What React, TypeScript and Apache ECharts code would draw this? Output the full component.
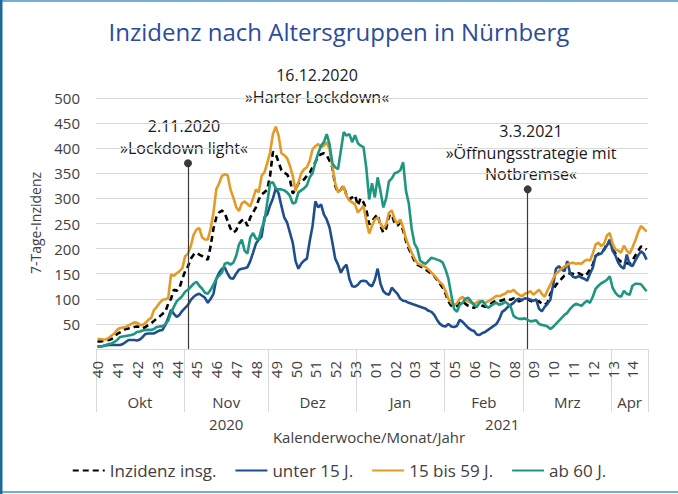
import React, { useEffect, useRef } from 'react';
import * as echarts from 'echarts';

// ---------- data ----------
const START = Date.UTC(2020, 9, 1);
const DAY_COUNT = 195;
const days: string[] = [];
for (let i = 0; i < DAY_COUNT; i++) {
  days.push(new Date(START + i * 86400000).toISOString().slice(0, 10));
}

const weekLabels = ['40','41','42','43','44','45','46','47','48','49','50','51','52','53','01','02','03','04','05','06','07','08','09','10','11','12','13','14'];
const monthNames = ['Okt', 'Nov', 'Dez', 'Jan', 'Feb', 'Mrz', 'Apr'];
const monthStarts = [0, 31, 61, 92, 123, 151, 182, 195];
const yearNames = ['2020', '2021'];
const yearStarts = [0, 92, 195];

const insg = [
  15,15,16,17,18,20,24,30,33,36,
  40,41,42,44,45,44,41,44,48,51,
  56,61,65,70,74,90,100,118,116,122,
  140,155,165,180,188,192,188,185,180,178,
  205,240,262,272,276,270,255,240,232,236,
  250,256,258,245,262,272,282,298,308,312,
  318,345,393,388,372,356,351,348,338,310,
  318,330,334,338,345,351,362,372,384,388,
  390,386,375,362,325,312,318,325,306,298,
  302,306,286,300,292,278,248,255,262,268,
  245,232,240,265,268,250,246,252,236,215,
  200,188,176,168,165,162,158,154,150,145,
  138,130,122,110,95,86,84,86,92,95,
  90,86,84,82,85,88,86,84,86,90,
  94,96,95,97,99,100,98,101,96,95,
  98,97,99,96,94,93,95,90,88,92,
  110,118,128,134,140,146,148,151,150,148,
  151,148,145,150,158,168,185,190,192,198,
  210,214,198,190,178,174,172,171,170,176,
  186,195,204,202,198
];

const unter15 = [
  5,5,6,7,8,8,8,8,8,10,
  14,18,18,18,17,19,24,30,31,31,
  31,34,37,38,48,62,78,70,64,68,
  76,82,88,98,104,108,110,106,102,92,
  100,110,140,152,160,162,150,141,140,150,
  158,160,161,163,175,192,210,218,224,262,
  268,286,300,320,310,285,262,252,232,212,
  175,160,170,176,180,215,245,294,282,288,
  268,258,242,212,180,168,152,162,168,140,
  125,124,128,135,136,135,128,125,138,160,
  130,115,110,108,122,116,110,100,96,95,
  92,90,88,86,84,82,80,76,74,68,
  58,50,46,45,50,45,44,46,58,54,
  48,42,38,36,29,28,32,34,38,42,
  46,50,60,74,78,84,88,92,98,100,
  97,101,100,98,96,99,80,75,84,90,
  98,128,160,165,158,155,175,150,144,142,
  145,142,140,136,150,162,186,188,190,198,
  206,218,196,186,172,164,160,188,168,165,
  176,186,195,190,178
];

const bis59 = [
  20,20,19,19,22,27,31,38,42,43,
  44,47,50,53,52,48,48,52,58,62,
  78,84,92,98,99,101,148,146,151,155,
  161,185,190,205,228,238,241,222,218,218,
  240,272,318,330,345,348,346,318,302,283,
  275,290,294,289,284,300,318,312,345,352,
  370,392,428,443,425,390,386,380,365,345,
  315,332,350,358,362,375,398,404,408,402,
  405,412,398,365,330,312,318,324,305,296,
  292,288,272,278,285,255,230,245,258,262,
  250,240,248,272,276,258,250,258,242,220,
  205,192,180,171,168,166,163,158,152,146,
  140,133,128,115,100,92,88,91,100,104,
  97,95,92,90,93,96,94,92,95,98,
  102,106,105,108,110,115,114,118,112,108,
  105,110,112,115,108,113,118,110,104,117,
  128,140,150,155,160,164,168,171,172,170,
  171,170,175,178,176,190,208,212,205,210,
  226,231,210,198,196,192,206,196,190,202,
  216,232,245,240,234
];

const ab60 = [
  5,5,6,8,10,11,14,18,24,25,
  26,27,28,30,34,35,37,38,38,38,
  40,44,45,45,50,56,72,84,95,100,
  106,114,118,124,130,134,126,120,112,110,
  118,128,140,146,152,170,172,168,172,185,
  208,218,196,190,222,231,220,218,240,255,
  292,330,332,320,318,318,316,312,305,290,
  292,312,316,320,326,342,350,372,390,405,
  412,428,408,370,362,358,395,432,425,428,
  412,426,410,405,402,360,298,330,302,342,
  314,282,300,334,340,350,352,356,372,315,
  290,240,210,200,176,172,170,176,182,180,
  178,176,172,158,140,108,80,74,88,92,
  100,102,95,88,84,92,96,88,82,86,
  90,92,88,90,94,90,84,66,62,60,
  60,61,58,55,56,57,50,48,47,45,
  40,44,50,56,62,68,72,80,86,90,
  88,86,92,96,92,104,120,126,131,134,
  138,145,122,112,106,104,116,110,108,126,
  130,130,129,122,115
];

const seriesNames = ['Inzidenz insg.', 'unter 15 J.', '15 bis 59 J.', 'ab 60 J.'];
const seriesColors = ['#000000', '#1f4e8c', '#e39a26', '#1f9680'];

const annotations = [
  { day: 32, top: 370, lines: ['2.11.2020', '»Lockdown light«'], cx: 184, y0: 126 },
  { day: 152, top: 318, lines: ['3.3.2021', '»Öffnungsstrategie mit', 'Notbremse«'], cx: 531, y0: 131 },
  { day: -1, top: 0, lines: ['16.12.2020', '»Harter Lockdown«'], cx: 317, y0: 75 },
];

const FONT = '"Open Sans", sans-serif';
const TXT = '#404040';
const GRID_C = '#d9d9d9';

export default function App() {
  const ref = useRef<HTMLDivElement>(null);
  useEffect(() => {
    if (!ref.current) return;
    const chart = echarts.init(ref.current, undefined, { renderer: 'svg' });

    const monthMids = monthNames.map((_, k) => (monthStarts[k] + monthStarts[k + 1]) / 2);
    const yearMids = yearNames.map((_, k) => (yearStarts[k] + yearStarts[k + 1]) / 2);

    const graphic: any[] = [
      { type: 'rect', shape: { x: 0, y: 0, width: 678, height: 2 }, style: { fill: '#74afcb' }, silent: true },
      { type: 'rect', shape: { x: 0, y: 491, width: 678, height: 2 }, style: { fill: '#74afcb' }, silent: true },
      { type: 'rect', shape: { x: 0, y: 0, width: 2.5, height: 494 }, style: { fill: '#1c6b98' }, silent: true },
      {
        type: 'text', x: 35, y: 223, rotation: Math.PI / 2,
        style: { text: '7-Tage-Inzidenz', align: 'center', verticalAlign: 'middle', fontSize: 14, fontFamily: FONT, fill: TXT },
      },
      {
        type: 'text', x: 369, y: 437,
        style: { text: 'Kalenderwoche/Monat/Jahr', align: 'center', verticalAlign: 'middle', fontSize: 15, fontFamily: FONT, fill: TXT },
      },
    ];
    annotations.forEach((a) => {
      a.lines.forEach((ln, k) => {
        graphic.push({
          type: 'text', x: a.cx, y: a.y0 + k * 21.5,
          style: {
            text: ln, align: 'center', verticalAlign: 'middle',
            fontSize: 16, lineHeight: 18, fontFamily: FONT, fill: '#1a1a1a',
          },
        });
      });
    });

    const markLineData = annotations
      .filter((a) => a.day >= 0)
      .map((a) => [{ coord: [a.day, 0] }, { coord: [a.day, a.top] }]);

    const dataSets = [insg, unter15, bis59, ab60];

    chart.setOption({
      animation: false,
      textStyle: { fontFamily: FONT },
      title: {
        text: 'Inzidenz nach Altersgruppen in Nürnberg',
        left: 'center', top: 14,
        textStyle: { fontSize: 24, fontWeight: 'normal', color: '#2c4b9b', fontFamily: FONT },
      },
      grid: { left: 96, right: 30, top: 98, bottom: 145, containLabel: false },
      legend: {
        data: seriesNames,
        top: 457, left: 'center',
        itemWidth: 32, itemHeight: 14, itemGap: 18,
        itemStyle: { opacity: 0, borderWidth: 0 },
        textStyle: { fontSize: 17, color: TXT, fontFamily: FONT },
      },
      xAxis: [
        {
          type: 'category', data: days, boundaryGap: true, position: 'bottom',
          axisLine: { show: true, lineStyle: { color: GRID_C, width: 1 } },
          axisTick: { show: false },
          axisLabel: {
            interval: (i: number) => i % 7 === 0,
            formatter: (_v: string, i: number) => weekLabels[Math.round(i / 7)] ?? '',
            rotate: 90, fontSize: 15, color: TXT, margin: 12, fontFamily: FONT,
          },
          splitLine: { show: false },
        },
        {
          type: 'value', min: 0, max: DAY_COUNT, position: 'bottom',
          axisLine: { show: false },
          splitLine: { show: false },
          axisTick: { show: true, customValues: monthStarts, length: 63, lineStyle: { color: GRID_C, width: 1 } },
          axisLabel: {
            customValues: monthMids,
            formatter: (v: number) => monthNames[monthMids.indexOf(v)] ?? '',
            fontSize: 15, color: TXT, margin: 45, fontFamily: FONT,
          },
        },
        {
          type: 'value', min: 0, max: DAY_COUNT, position: 'bottom',
          axisLine: { show: false },
          splitLine: { show: false },
          axisTick: { show: false },
          axisLabel: {
            customValues: yearMids,
            formatter: (v: number) => yearNames[yearMids.indexOf(v)] ?? '',
            fontSize: 15, color: TXT, margin: 67, fontFamily: FONT,
          },
        },
      ],
      yAxis: {
        type: 'value', min: 0, max: 500, interval: 50,
        axisLine: { show: false }, axisTick: { show: false },
        axisLabel: { showMinLabel: false, fontSize: 15, color: TXT, margin: 16, fontFamily: FONT },
        splitLine: { show: true, lineStyle: { color: GRID_C, width: 1 } },
      },
      graphic,
      series: seriesNames.map((name, k) => ({
        name, type: 'line', xAxisIndex: 0, yAxisIndex: 0,
        data: dataSets[k], symbol: 'none', showSymbol: false,
        color: seriesColors[k],
        lineStyle: { color: seriesColors[k], width: 2.6, type: k === 0 ? [6, 4] : 'solid' },
        emphasis: { disabled: true },
        z: 2 + k,
        markLine: k === 0 ? {
          silent: true, symbol: ['none', 'circle'], symbolSize: 8,
          label: { show: false },
          lineStyle: { color: '#3a3a3a', width: 1.2, type: 'solid' },
          emphasis: { disabled: true },
          data: markLineData,
        } : undefined,
      })),
    });
    return () => chart.dispose();
  }, []);

  return (
    <div
      ref={ref}
      style={{ position: 'fixed', left: 0, top: 0, width: 678, height: 494, background: '#fff' }}
    />
  );
}
